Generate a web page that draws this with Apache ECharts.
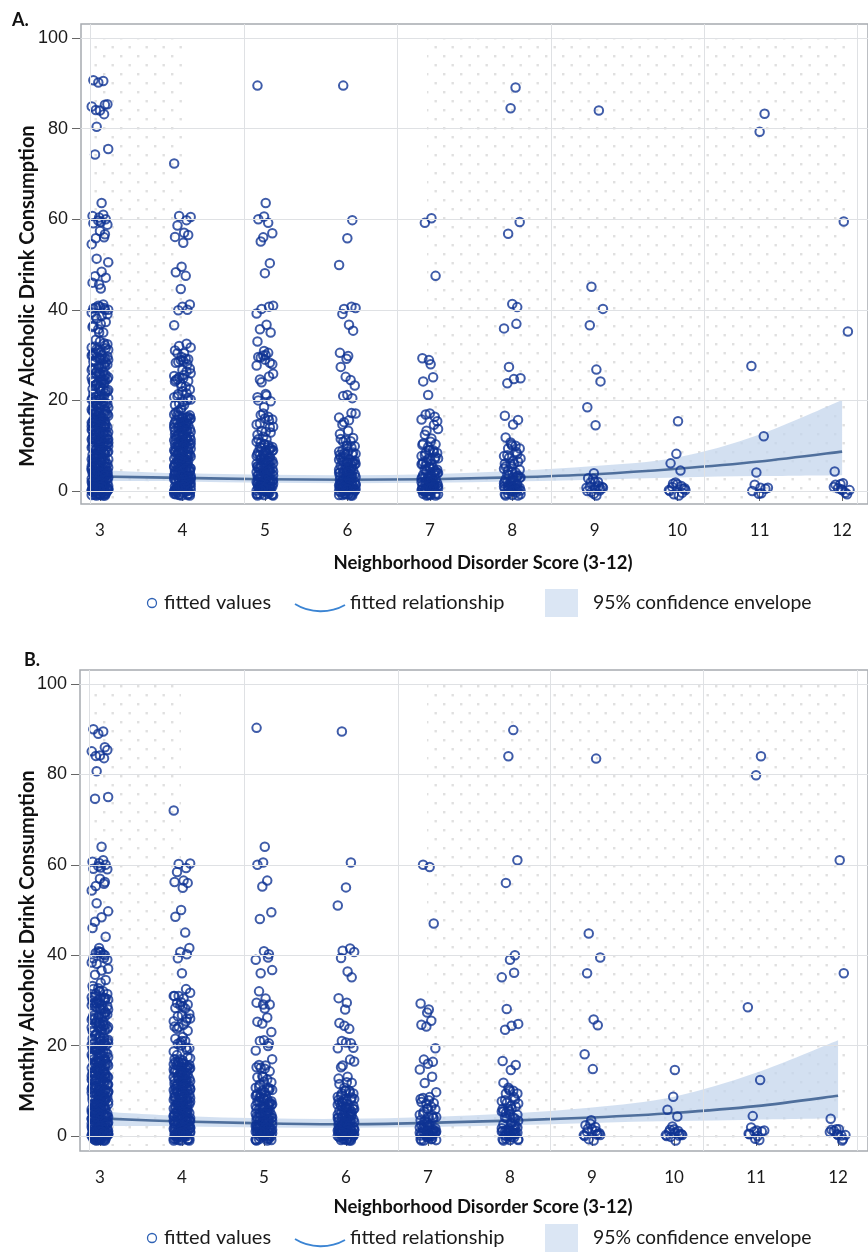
<!DOCTYPE html>
<html>
<head>
<meta charset="utf-8">
<title>Neighborhood disorder and monthly alcoholic drink consumption</title>
<script src="https://cdn.jsdelivr.net/npm/echarts@6.0.0/dist/echarts.min.js"></script>
<style>
  html, body { margin: 0; padding: 0; background: #ffffff; }
  #chart { width: 868px; height: 1256px; }
</style>
</head>
<body>
<div id="chart"></div>
<script>
// Neighborhood disorder score categories and y-axis ticks
const scores = [3, 4, 5, 6, 7, 8, 9, 10, 11, 12];
const yTicks = [0, 20, 40, 60, 80, 100];

// Fitted relationship and 95% confidence envelope, panel A
const fitA  = [3.2, 2.9, 2.6, 2.5, 2.6, 3.0, 3.7, 4.9, 6.5, 8.7];
const lowA  = [2.2, 2.1, 1.8, 1.7, 1.8, 2.1, 2.5, 3.0, 3.3, 3.5];
const highA = [4.6, 3.9, 3.6, 3.5, 3.7, 4.4, 5.5, 7.4, 12.5, 20.1];

// Fitted relationship and 95% confidence envelope, panel B
const fitB  = [3.9, 3.2, 2.8, 2.6, 2.9, 3.4, 4.1, 5.1, 6.6, 8.9];
const lowB  = [2.2, 2.1, 1.9, 1.8, 2.0, 2.4, 2.9, 3.3, 3.6, 3.9];
const highB = [5.4, 4.4, 3.9, 3.8, 4.2, 5.0, 6.3, 8.7, 14.0, 21.2];

// Observed monthly drinks per score, as [drinks, number of respondents]
const drinksA3 = [[90.7,1],[90.5,1],[90.2,1],[85,2],[84.3,3],[83.2,1],[80.4,1],[75.5,1],[74.3,1],[63.6,1],[60,7],[58.8,1],[56.5,3],[55.5,2],[51.3,1],[50.5,1],[48,3],[45,3],[41,2],[40,7],[39,3],[38,2],[36,4],[35,2],[33,3],[32,4],[31,4],[30,9],[29,5],[28,7],[27,5],[26,6],[25,6],[24,8],[23,5],[22,5],[21,5],[20,10],[19,6],[18,8],[17,8],[16,10],[15,10],[14,9],[13,9],[12,11],[11,9],[10,12],[9,10],[8,12],[7,11],[6,12],[5,12],[4,13],[3,14],[2,16],[1,18],[0,36]];
const drinksA4 = [[72.3,1],[60.5,2],[59.6,2],[56.5,2],[55.4,2],[49.5,1],[48.3,1],[47.5,1],[44.6,1],[40.6,2],[39.8,2],[36.6,1],[32,2],[31,2],[30,3],[29,4],[28,4],[26,4],[25,4],[24,4],[23,3],[21,5],[20,5],[19,3],[17,6],[16,9],[15,9],[14,9],[13,9],[12,10],[11,9],[10,11],[9,10],[8,11],[7,11],[6,12],[5,12],[4,12],[3,13],[2,15],[1,16],[0,32]];
const drinksA5 = [[89.5,1],[63.6,1],[60.6,1],[60,1],[59.2,1],[56.3,2],[55.1,1],[50.3,1],[48.1,1],[40.2,4],[36.3,2],[35,1],[33,1],[30.3,4],[29,3],[28.3,3],[24.9,4],[20.5,4],[19.5,2],[16.4,4],[15,4],[14,3],[12.4,4],[11,4],[10,6],[9,6],[8,7],[7,8],[6,9],[5,10],[4,10],[3,11],[2,12],[1,14],[0,28]];
const drinksA6 = [[89.5,1],[59.8,1],[55.8,1],[49.9,1],[40.2,2],[39.7,2],[36.3,2],[30.5,1],[29.8,1],[29.2,1],[27.4,1],[24.3,3],[20.5,3],[16.8,2],[16.1,2],[15,2],[12.4,3],[11,3],[10.5,3],[9,5],[8,6],[7,7],[6,8],[5,9],[4,10],[3,10],[2,11],[1,13],[0,26]];
const drinksA7 = [[59.8,2],[47.5,1],[28.3,3],[24.9,2],[21.2,1],[16.4,5],[14.2,2],[12.7,2],[11,2],[10,4],[9,3],[8,5],[7,5],[6,6],[5,6],[4,7],[3,8],[2,9],[1,10],[0,24]];
const drinksA8 = [[89.1,1],[84.5,1],[59.4,1],[56.8,1],[40.6,2],[36.5,2],[27.4,1],[24.9,1],[24.1,2],[16.4,2],[14.7,1],[11.3,2],[10,3],[9,3],[8,3],[7,3],[6,4],[5,4],[4,5],[3,6],[2,7],[1,8],[0,20]];
const drinksA9 = [[84,1],[45.1,1],[40.2,1],[36.6,1],[26.8,1],[24.2,1],[18.5,1],[14.5,1],[3.9,1],[2.8,1],[2,2],[1.5,2],[1,3],[0.5,3],[0,6]];
const drinksA10 = [[15.4,1],[8.2,1],[6.1,1],[4.5,1],[1.2,3],[0.5,4],[0,6]];
const drinksA11 = [[83.3,1],[79.3,1],[27.6,1],[12.1,1],[4.1,1],[0.5,3],[0,4]];
const drinksA12 = [[59.5,1],[35.2,1],[4.3,1],[1,3],[0.5,3],[0,4]];

const drinksB3 = [[90,1],[89.5,1],[89,1],[85,3],[84.5,2],[83.6,1],[80.7,1],[75,1],[74.6,1],[64,1],[60,7],[59,1],[56,3],[55.3,2],[51.5,1],[49.7,1],[48,2],[45,2],[41,2],[40,7],[39,3],[36,3],[34.5,1],[33,3],[32,4],[31,4],[30,9],[29,5],[28,7],[27,5],[26,6],[25,6],[24,8],[23,5],[22,5],[21,5],[20,10],[19,6],[18,8],[17,8],[16,10],[15,10],[14,9],[13,9],[12,11],[11,9],[10,12],[9,10],[8,12],[7,11],[6,12],[5,12],[4,13],[3,14],[2,16],[1,18],[0,36]];
const drinksB4 = [[72,1],[60,2],[59.4,2],[56,2],[55.5,2],[50,1],[48.5,1],[45,1],[41,2],[40,2],[36,1],[32,2],[31,2],[30,4],[29,3],[28,3],[26,4],[25,3],[24,4],[21,4],[20,5],[19,2],[17,6],[16,9],[15,9],[14,9],[13,9],[12,10],[11,9],[10,11],[9,10],[8,11],[7,11],[6,12],[5,12],[4,12],[3,13],[2,15],[1,16],[0,32]];
const drinksB5 = [[90.3,1],[64,1],[60.5,1],[60,1],[55.5,2],[49.5,1],[48,1],[40,3],[39.5,1],[36,2],[32,1],[30,2],[28.5,3],[26,2],[24,2],[20.5,3],[19.5,2],[16,3],[15,3],[14,2],[12.5,4],[11,4],[10,6],[9,6],[8,7],[7,8],[6,9],[5,10],[4,10],[3,11],[2,12],[1,14],[0,28]];
const drinksB6 = [[89.5,1],[60.5,1],[55,1],[51,1],[41,2],[40,2],[36,2],[30.5,1],[29.5,1],[28,1],[25,1],[23.5,2],[20.5,3],[20,2],[16.5,2],[15.5,2],[12.5,3],[11,3],[10,3],[9,5],[8,6],[7,7],[6,8],[5,9],[4,10],[3,10],[2,11],[1,13],[0,26]];
const drinksB7 = [[60,1],[59.5,1],[47,1],[28.3,2],[27.3,1],[25.3,2],[24.2,1],[19.4,1],[16.4,2],[15.3,2],[13.1,1],[11.7,1],[8.7,2],[8,3],[7,3],[6.5,3],[5,4],[4,4],[3.5,5],[2,7],[1,9],[0,22]];
const drinksB8 = [[89.8,1],[84,1],[61,1],[56,1],[40,1],[39,1],[35.7,2],[28.1,1],[23.8,3],[16.4,2],[14.6,1],[11.3,2],[10,3],[9,3],[8,3],[7,3],[6,4],[5,4],[4.5,4],[3.4,5],[2,6],[1,8],[0,20]];
const drinksB9 = [[83.5,1],[44.8,1],[39.5,1],[36,1],[25.2,2],[18.1,1],[14.8,1],[3.5,1],[2.4,1],[2,2],[1.2,3],[0.5,3],[0,6]];
const drinksB10 = [[14.6,1],[8.7,1],[5.8,1],[4.3,1],[2.1,1],[1,3],[0.5,4],[0,6]];
const drinksB11 = [[84,1],[79.8,1],[28.5,1],[12.4,1],[4.4,1],[1,3],[0.5,3],[0,4]];
const drinksB12 = [[61,1],[36,1],[3.8,1],[1.5,1],[1,3],[0.5,3],[0,4]];

const drinksA = [drinksA3, drinksA4, drinksA5, drinksA6, drinksA7, drinksA8, drinksA9, drinksA10, drinksA11, drinksA12];
const drinksB = [drinksB3, drinksB4, drinksB5, drinksB6, drinksB7, drinksB8, drinksB9, drinksB10, drinksB11, drinksB12];

// Fixed jitter offsets so overlapping respondents stay visible
const jitterX = [-0.08, 0.04, -0.02, 0.09, -0.05, 0.06, 0.0, -0.1, 0.05, -0.04, 0.1, -0.06, 0.02, 0.07, -0.09, 0.01, -0.01];
const jitterY = [0, 0.7, -0.6, 0.4, -0.9, 1.0, -0.3, 0.6, -0.7, 0.2, 0.9, -1.0, 0.5];

// Extra vertical reference lines of the plot background
const vLinesA = [2.879, 4.752, 6.612, 8.472, 10.333, 12.181];
const vLinesB = [2.866, 4.761, 6.644, 8.49, 10.36, 12.23];

function jittered(cols) {
  const pts = [];
  cols.forEach((col, i) => {
    let k = i * 7;
    col.forEach(([v, n]) => {
      for (let j = 0; j < n; j++) {
        const x = scores[i] + jitterX[k % jitterX.length];
        const y = n > 1 ? v + jitterY[k % jitterY.length] : v;
        pts.push([x, y]);
        k++;
      }
    });
  });
  return pts;
}

// Smooth path through pixel points (Catmull-Rom turned into cubic Beziers)
function curveCmds(p, first) {
  let d = (first ? 'M' : 'L') + p[0][0] + ',' + p[0][1];
  for (let i = 0; i < p.length - 1; i++) {
    const p0 = p[Math.max(i - 1, 0)], p1 = p[i], p2 = p[i + 1], p3 = p[Math.min(i + 2, p.length - 1)];
    const c1x = p1[0] + (p2[0] - p0[0]) / 6, c1y = p1[1] + (p2[1] - p0[1]) / 6;
    const c2x = p2[0] - (p3[0] - p1[0]) / 6, c2y = p2[1] - (p3[1] - p1[1]) / 6;
    d += 'C' + c1x + ',' + c1y + ',' + c2x + ',' + c2y + ',' + p2[0] + ',' + p2[1];
  }
  return d;
}

const FONT = 'Lato, "Open Sans", "Noto Sans", sans-serif';
const POINT = '#0f3393';

function xAxisOf(idx, min, max) {
  return {
    type: 'value', gridIndex: idx, min: min, max: max, offset: 4,
    axisLine: { show: false },
    axisTick: { show: true, customValues: scores, length: 10, lineStyle: { color: '#666', width: 1 } },
    axisLabel: { customValues: scores, fontSize: 17, fontFamily: FONT, color: '#1a1a1a', margin: 14 },
    splitLine: { show: false }
  };
}
function yAxisOf(idx, min, max) {
  return {
    type: 'value', gridIndex: idx, min: min, max: max, offset: 1,
    axisLine: { show: false },
    axisTick: { show: true, customValues: yTicks, length: 8, lineStyle: { color: '#666', width: 1 } },
    axisLabel: { customValues: yTicks, fontSize: 18, fontFamily: '"Liberation Sans", Arial, sans-serif', color: '#1a1a1a', margin: 12 },
    splitLine: { show: false }
  };
}

function panelSeries(idx, fit, low, high, drinks, vLines) {
  const ax = { xAxisIndex: idx, yAxisIndex: idx };
  return [
    Object.assign({
      type: 'line', data: [], z: 1, silent: true,
      markLine: {
        silent: true, symbol: ['none', 'none'], label: { show: false }, animation: false,
        lineStyle: { color: '#dfe1e4', width: 1, type: 'solid' },
        emphasis: { disabled: true },
        data: vLines.map(v => ({ xAxis: v })).concat(yTicks.map(v => ({ yAxis: v })))
      }
    }, ax),
    Object.assign({
      // confidence envelope and fitted curve
      type: 'custom', z: 2, silent: true, clip: true,
      encode: { x: 0, y: [1, 2, 3] },
      data: scores.map((s, i) => [s, low[i], high[i], fit[i]]),
      renderItem: function (params, api) {
        if (params.dataIndex !== 0) return null;
        const up = scores.map((s, i) => api.coord([s, high[i]]));
        const dn = scores.map((s, i) => api.coord([s, low[i]])).reverse();
        const mid = scores.map((s, i) => api.coord([s, fit[i]]));
        return {
          type: 'group',
          children: [
            { type: 'path', shape: { pathData: curveCmds(up, true) + curveCmds(dn, false) + 'Z' },
              style: { fill: 'rgba(196,213,236,0.75)', stroke: null } },
            { type: 'path', shape: { pathData: curveCmds(mid, true) },
              style: { fill: null, stroke: '#4f6f9c', lineWidth: 2.6 } }
          ]
        };
      }
    }, ax),
    Object.assign({
      type: 'scatter', z: 4, progressive: 0, large: false, silent: true,
      symbol: 'circle', symbolSize: 8.5,
      itemStyle: { color: 'rgba(255,255,255,0)', borderColor: POINT, borderWidth: 2 },
      data: jittered(drinks)
    }, ax)
  ];
}

// faint dot texture in the plot background
const tile = document.createElement('canvas');
tile.width = 17; tile.height = 18;
const tctx = tile.getContext('2d');
tctx.fillStyle = 'rgba(170,170,170,0.36)';
tctx.fillRect(1, 1, 2.4, 2.4);
tctx.fillRect(9.5, 10, 2.4, 2.4);
function dots(x, y, w, h) {
  return { type: 'rect', z: -5, silent: true, shape: { x: x, y: y, width: w, height: h }, style: { fill: { image: tile, repeat: 'repeat' } } };
}

function legendItems(y) {
  const txt = { font: '20px ' + FONT, fill: '#1a1a1a', textVerticalAlign: 'middle', verticalAlign: 'middle' };
  return [
    { type: 'circle', shape: { cx: 152, cy: y, r: 4.5 }, style: { fill: 'none', stroke: '#2f62b5', lineWidth: 1.3 } },
    { type: 'text', x: 164, y: y, style: Object.assign({ text: 'fitted values' }, txt) },
    { type: 'bezierCurve', shape: { x1: 295, y1: y + 1, cpx1: 310, cpy1: y + 10.5, cpx2: 330, cpy2: y + 10.5, x2: 345, y2: y + 2 }, style: { fill: null, stroke: '#3b84d3', lineWidth: 1.8 } },
    { type: 'text', x: 350, y: y, style: Object.assign({ text: 'fitted relationship' }, txt) },
    { type: 'rect', shape: { x: 545, y: y - 14, width: 33, height: 28 }, style: { fill: '#dbe6f4' } },
    { type: 'text', x: 593, y: y, style: Object.assign({ text: '95% confidence envelope' }, txt, { font: '19.4px ' + FONT }) }
  ];
}

function titleItems(letter, letterX, letterY, yTitleY, xTitleY) {
  return [
    { type: 'text', x: letterX, y: letterY, style: { text: letter, font: 'bold 18px ' + FONT, fill: '#111', textVerticalAlign: 'middle', verticalAlign: 'middle' } },
    { type: 'text', x: 28, y: yTitleY, rotation: Math.PI / 2, style: { text: 'Monthly Alcoholic Drink Consumption', font: 'bold 20px ' + FONT, fill: '#111', textAlign: 'center', align: 'center', textVerticalAlign: 'middle', verticalAlign: 'middle' } },
    { type: 'text', x: 483, y: xTitleY, style: { text: 'Neighborhood Disorder Score (3-12)', font: 'bold 18.5px ' + FONT, fill: '#111', textAlign: 'center', align: 'center', textVerticalAlign: 'middle', verticalAlign: 'middle' } }
  ];
}

const chart = echarts.init(document.getElementById('chart'), null, { renderer: 'canvas' });
chart.setOption({
  animation: false,
  backgroundColor: '#ffffff',
  grid: [
    { left: 81, top: 24, width: 790, height: 480, show: true, borderColor: '#a7abb0', borderWidth: 1.5, backgroundColor: 'transparent' },
    { left: 80, top: 670, width: 791, height: 481, show: true, borderColor: '#a7abb0', borderWidth: 1.5, backgroundColor: 'transparent' }
  ],
  xAxis: [xAxisOf(0, 2.77, 12.314), xAxisOf(1, 2.757, 12.365)],
  yAxis: [yAxisOf(0, -2.87, 103.1), yAxisOf(1, -3.32, 103.1)],
  series: panelSeries(0, fitA, lowA, highA, drinksA, vLinesA)
    .concat(panelSeries(1, fitB, lowB, highB, drinksB, vLinesB)),
  graphic: [
    dots(90, 38, 92, 462), dots(427, 38, 418, 462),
    dots(89, 684, 92, 462), dots(427, 684, 418, 462)
  ].concat(
    titleItems('A.', 12, 20, 296, 563), legendItems(603),
    titleItems('B.', 24, 660, 941, 1207), legendItems(1238)
  )
});
</script>
</body>
</html>
